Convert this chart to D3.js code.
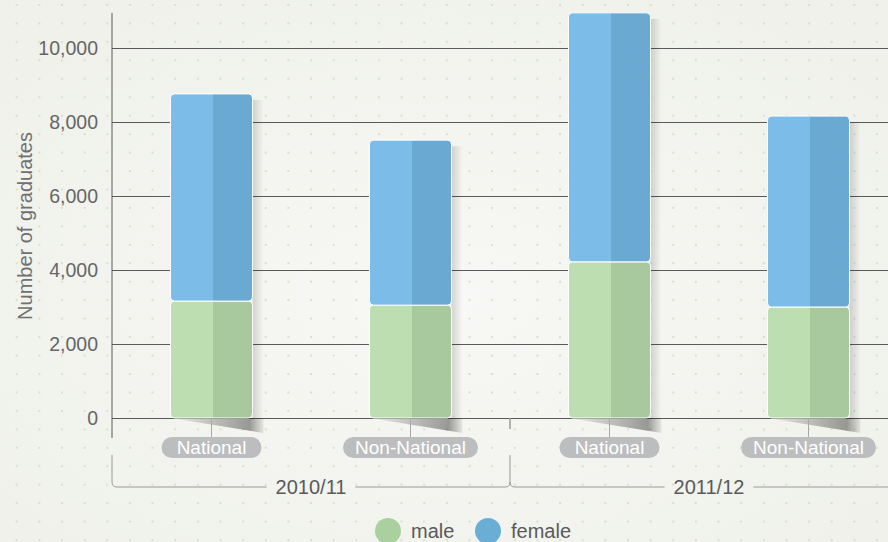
<!DOCTYPE html>
<html>
<head>
<meta charset="utf-8">
<script src="https://cdn.jsdelivr.net/npm/d3@7"></script>
<style>
  html, body { margin: 0; padding: 0; overflow: hidden; background: #f3f4ef; }
  text { font-family: "Liberation Sans", Arial, sans-serif; }
</style>
</head>
<body>
<div id="chart"></div>
<script>
// data
const years = ["2010/11", "2011/12"]
const types = ["National", "Non-National"]
const male = [3160, 3050, 4220, 3000]
const female = [5600, 4460, 6730, 5160]
const yTicks = [0, 2000, 4000, 6000, 8000, 10000]
const seriesNames = ["male", "female"]

const width = 888
const height = 542
const plotLeft = 112, plotRight = 908, plotTop = 13

const rows = []
years.forEach((yr, i) => {
    types.forEach((t, j) => {
        const k = i * types.length + j
        rows.push({ key: yr + "|" + t, year: yr, type: t, male: male[k], female: female[k] })
    })
})

const svg = d3.select("#chart").append("svg")
    .attr("width", width)
    .attr("height", height)

const defs = svg.append("defs")

// background
const bgGrad = defs.append("radialGradient").attr("id", "bg")
    .attr("cx", "50%").attr("cy", "55%").attr("r", "65%")
bgGrad.append("stop").attr("offset", "0%").attr("stop-color", "#f8f8f6")
bgGrad.append("stop").attr("offset", "100%").attr("stop-color", "#eff1ea")

const dots = defs.append("pattern").attr("id", "dots")
    .attr("patternUnits", "userSpaceOnUse")
    .attr("x", 15.7).attr("y", 4)
    .attr("width", 22.64).attr("height", 18.45)
dots.append("rect").attr("width", 2).attr("height", 2).attr("fill", "#d9e0c9")

svg.append("rect").attr("width", width).attr("height", height).attr("fill", "url(#bg)")
svg.append("rect").attr("width", width).attr("height", height).attr("fill", "url(#dots)")

// two-tone fills
function twoTone(id, light, dark) {
    const g = defs.append("linearGradient").attr("id", id)
        .attr("x1", 0).attr("x2", 1).attr("y1", 0).attr("y2", 0)
    g.append("stop").attr("offset", 0).attr("stop-color", light)
    g.append("stop").attr("offset", 0.52).attr("stop-color", light)
    g.append("stop").attr("offset", 0.52).attr("stop-color", dark)
    g.append("stop").attr("offset", 1).attr("stop-color", dark)
}
twoTone("fillMale", "#bddeb0", "#a8c89d")
twoTone("fillFemale", "#7bbde8", "#6aa9d2")

const sideShadow = defs.append("linearGradient").attr("id", "sideShadow")
    .attr("x1", 0).attr("x2", 1).attr("y1", 0).attr("y2", 0)
sideShadow.append("stop").attr("offset", 0).attr("stop-color", "#000").attr("stop-opacity", 0.15)
sideShadow.append("stop").attr("offset", 1).attr("stop-color", "#000").attr("stop-opacity", 0)

const floorShadow = defs.append("linearGradient").attr("id", "floorShadow")
    .attr("x1", 0).attr("x2", 1).attr("y1", 0).attr("y2", 0)
floorShadow.append("stop").attr("offset", 0).attr("stop-color", "#000").attr("stop-opacity", 0.03)
floorShadow.append("stop").attr("offset", 0.85).attr("stop-color", "#000").attr("stop-opacity", 0.38)
floorShadow.append("stop").attr("offset", 1).attr("stop-color", "#000").attr("stop-opacity", 0.06)

// scales
const x = d3.scaleBand()
    .domain(rows.map(d => d.key))
    .range([plotLeft, plotRight])
    .paddingInner(0.588)
    .paddingOuter(0.294)

const xGroup = d3.scaleBand()
    .domain(years)
    .range([plotLeft, plotRight])

const y = d3.scaleLinear()
    .domain([0, 10000])
    .range([418, 48])

// grid + tick labels
const yAxis = svg.append("g")
    .attr("transform", `translate(${plotLeft},0)`)
    .call(d3.axisLeft(y).tickValues(yTicks).tickSize(-(width - plotLeft)).tickPadding(14).tickFormat(d3.format(",")))
yAxis.select(".domain").remove()
yAxis.selectAll(".tick line").attr("stroke", "#5a5a5a").attr("stroke-width", 1)
yAxis.selectAll(".tick text")
    .attr("fill", "#666")
    .attr("font-size", 19.5)
    .attr("font-family", "Liberation Sans, Arial, sans-serif")

svg.append("line")
    .attr("x1", plotLeft).attr("x2", plotLeft)
    .attr("y1", plotTop).attr("y2", y(0) + 20)
    .attr("stroke", "#5a5a5a")

svg.append("text")
    .attr("transform", `translate(32,${226}) rotate(-90)`)
    .attr("text-anchor", "middle")
    .attr("fill", "#707070")
    .attr("font-size", 20)
    .text("Number of graduates")

// bars
const bw = x.bandwidth()
const bars = svg.append("g").selectAll("g.bar")
    .data(rows)
    .enter()
    .append("g")
    .attr("class", "bar")

bars.append("rect")
    .attr("x", d => x(d.key) + bw)
    .attr("y", d => y(d.male + d.female) + 6)
    .attr("width", 11)
    .attr("height", d => y(0) - y(d.male + d.female) - 6)
    .attr("fill", "url(#sideShadow)")

bars.append("path")
    .attr("d", d => {
        const x0 = x(d.key), x1 = x(d.key) + bw + 11, y0 = y(0)
        return `M${x0},${y0} L${x1},${y0} L${x1},${y0 + 15} Z`
    })
    .attr("fill", "url(#floorShadow)")

bars.append("rect")
    .attr("x", d => x(d.key))
    .attr("y", d => y(d.male))
    .attr("width", bw)
    .attr("height", d => y(0) - y(d.male))
    .attr("rx", 4)
    .attr("fill", "url(#fillMale)")
    .attr("stroke", "#fff")
    .attr("stroke-width", 1)

bars.append("rect")
    .attr("x", d => x(d.key))
    .attr("y", d => y(d.male + d.female))
    .attr("width", bw)
    .attr("height", d => y(d.male) - y(d.male + d.female))
    .attr("rx", 4)
    .attr("fill", "url(#fillFemale)")
    .attr("stroke", "#fff")
    .attr("stroke-width", 1)

// category pills
const pills = svg.append("g").selectAll("g.pill")
    .data(rows)
    .enter()
    .append("g")
    .attr("class", "pill")
    .attr("transform", d => `translate(${x(d.key) + bw / 2},0)`)

pills.append("line")
    .attr("x1", 0).attr("x2", 0)
    .attr("y1", y(0)).attr("y2", y(0) + 19)
    .attr("stroke", "#a8a8a8")

const pillRect = pills.append("rect")
    .attr("y", y(0) + 19)
    .attr("height", 21)
    .attr("rx", 10.5)
    .attr("fill", "#bcbdbf")

const pillText = pills.append("text")
    .attr("y", y(0) + 36)
    .attr("text-anchor", "middle")
    .attr("fill", "#fff")
    .attr("font-size", 19)
    .text(d => d.type)

pillRect.each(function(d, i) {
    const w = Math.max(pillText.nodes()[i].getComputedTextLength() + 24, 100)
    d3.select(this).attr("x", -w / 2).attr("width", w)
})

// group braces
const braceY = 487
const bounds = [plotLeft].concat(years.map(yr => xGroup(yr) + xGroup.bandwidth()))
const brace = svg.append("g").attr("fill", "none").attr("stroke", "#9a9a9a").attr("stroke-width", 1)

bounds.forEach((bx, i) => {
    if (i > 0) {
        brace.append("line").attr("x1", bx).attr("x2", bx)
            .attr("y1", y(0)).attr("y2", y(0) + 11).attr("stroke-width", 1.5)
    }
    brace.append("path").attr("d", `M${bx},455 V${braceY - 5} Q${bx},${braceY} ${bx + 5},${braceY}`)
    if (i > 0) brace.append("path").attr("d", `M${bx},${braceY - 5} Q${bx},${braceY} ${bx - 5},${braceY}`)
})

const groupLabels = svg.append("g").selectAll("text")
    .data(years)
    .enter()
    .append("text")
    .attr("x", d => xGroup(d) + xGroup.bandwidth() / 2)
    .attr("y", braceY + 7)
    .attr("text-anchor", "middle")
    .attr("fill", "#5a5a5a")
    .attr("font-size", 20)
    .text(d => d)

groupLabels.each(function(d) {
    const half = this.getComputedTextLength() / 2 + 9
    const cx = xGroup(d) + xGroup.bandwidth() / 2
    brace.append("line").attr("x1", xGroup(d) + 5).attr("x2", cx - half).attr("y1", braceY).attr("y2", braceY)
    brace.append("line").attr("x1", cx + half).attr("x2", xGroup(d) + xGroup.bandwidth() - 5).attr("y1", braceY).attr("y2", braceY)
})

// legend
const legendColors = ["#a9d09e", "#6aaed5"]
const legendX = [388, 488]
const legend = svg.append("g").selectAll("g")
    .data(seriesNames)
    .enter()
    .append("g")
    .attr("transform", (d, i) => `translate(${legendX[i]},531)`)

legend.append("circle").attr("r", 13).attr("fill", (d, i) => legendColors[i])
legend.append("text")
    .attr("x", 23)
    .attr("y", 7)
    .attr("fill", "#5a5a5a")
    .attr("font-size", 20)
    .text(d => d)
</script>
</body>
</html>
